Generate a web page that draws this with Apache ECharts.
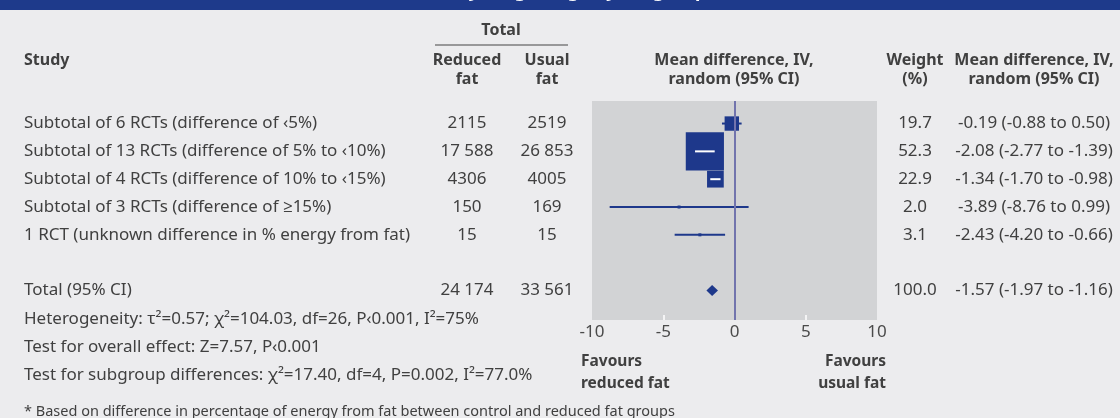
<!DOCTYPE html>
<html>
<head>
<meta charset="utf-8">
<script src="https://cdn.jsdelivr.net/npm/echarts@6/dist/echarts.min.js"></script>
<style>
  html, body { margin: 0; padding: 0; background: #ececee; }
  #chart { width: 1120px; height: 418px; }
</style>
</head>
<body>
<div id="chart"></div>
<script>
// Subgroup rows of the forest plot
const studies = [
  'Subtotal of 6 RCTs (difference of \u20395%)',
  'Subtotal of 13 RCTs (difference of 5% to \u203910%)',
  'Subtotal of 4 RCTs (difference of 10% to \u203915%)',
  'Subtotal of 3 RCTs (difference of \u226515%)',
  '1 RCT (unknown difference in % energy from fat)',
  'Total (95% CI)'
];
const reducedN = ['2115', '17 588', '4306', '150', '15', '24 174'];
const usualN   = ['2519', '26 853', '4005', '169', '15', '33 561'];
const weights  = [19.7, 52.3, 22.9, 2.0, 3.1, 100.0];
const meanDiff = [-0.19, -2.08, -1.34, -3.89, -2.43, -1.57];
const ciLow    = [-0.88, -2.77, -1.70, -8.76, -4.20, -1.97];
const ciHigh   = [0.50, -1.39, -0.98, 0.99, -0.66, -1.16];
const rowPos   = [0, 1, 2, 3, 4, 6];
const isTotal  = [false, false, false, false, false, true];
const xTicks   = [-10, -5, 0, 5, 10];

const FONT = '"Noto Sans", "Open Sans", sans-serif';
const TXT = '#404040';
const BLUE = '#1e388b';
const BODY = 17;
const HEAD = 16;

const rows = studies.map((s, i) => [rowPos[i], meanDiff[i], ciLow[i], ciHigh[i], weights[i], isTotal[i] ? 1 : 0, i]);

function fmt(v) { return v.toFixed(2); }

// squares scaled by weight, CI whiskers, diamond for the pooled estimate
function renderForest(params, api) {
  const row = api.value(0), md = api.value(1), lo = api.value(2), hi = api.value(3);
  const w = api.value(4), tot = api.value(5);
  const c = api.coord([md, row]);
  const pl = api.coord([lo, row]);
  const ph = api.coord([hi, row]);
  if (tot) {
    const h = 5.5;
    return {
      type: 'polygon',
      shape: { points: [[pl[0], c[1]], [c[0], c[1] - h], [ph[0], c[1]], [c[0], c[1] + h]] },
      style: { fill: BLUE }
    };
  }
  const side = Math.max(3, w * 0.73);
  const x0 = c[0] - side / 2, x1 = c[0] + side / 2;
  const inside = pl[0] >= x0 && ph[0] <= x1;
  const children = [
    { type: 'line', shape: { x1: pl[0], y1: c[1], x2: ph[0], y2: c[1] }, style: { stroke: BLUE, lineWidth: 2 } },
    { type: 'rect', shape: { x: x0, y: c[1] - side / 2, width: side, height: side }, style: { fill: BLUE } }
  ];
  if (inside) {
    children.push({ type: 'line', shape: { x1: pl[0], y1: c[1], x2: ph[0], y2: c[1] }, style: { stroke: '#ffffff', lineWidth: 2 } });
  }
  return { type: 'group', children };
}

// table columns placed on the same row scale as the plot
function renderTable(params, api) {
  const i = api.value(6);
  const y = api.coord([0, api.value(0)])[1];
  const base = { fontFamily: FONT, fontSize: BODY, fill: TXT, verticalAlign: 'middle' };
  const t = (x, text, align) => ({ type: 'text', x, y, style: Object.assign({}, base, { text, align }) });
  return {
    type: 'group',
    children: [
      t(24, studies[i], 'left'),
      t(467, reducedN[i], 'center'),
      t(547, usualN[i], 'center'),
      t(915, weights[i].toFixed(1), 'center'),
      t(1034, fmt(meanDiff[i]) + ' (' + fmt(ciLow[i]) + ' to ' + fmt(ciHigh[i]) + ')', 'center')
    ]
  };
}

function txt(x, y, text, opts) {
  return {
    type: 'text', x, y, silent: true,
    style: Object.assign({ text, fontFamily: FONT, fontSize: BODY, fill: TXT, verticalAlign: 'middle', align: 'left' }, opts || {})
  };
}
const bold = (o) => Object.assign({ fontWeight: 'bold', fontSize: HEAD }, o || {});

const chart = echarts.init(document.getElementById('chart'), null, { renderer: 'canvas' });
chart.setOption({
  backgroundColor: '#ececee',
  animation: false,
  grid: { left: 592, right: 243, top: 101, bottom: 98, show: true, backgroundColor: '#d2d3d5', borderWidth: 0 },
  xAxis: {
    type: 'value', min: xTicks[0], max: xTicks[xTicks.length - 1], interval: 5,
    axisLine: { show: false, onZero: false },
    axisTick: { show: true, inside: true, length: 5, customValues: [-5, 0, 5], lineStyle: { color: '#ffffff', width: 1.5 } },
    splitLine: { show: false },
    axisLabel: { color: '#4a4a4a', fontFamily: FONT, fontSize: BODY, margin: 4 }
  },
  yAxis: { type: 'value', inverse: true, min: -0.81, max: 7.06, show: false },
  series: [
    {
      type: 'custom', renderItem: renderForest, data: rows, clip: false, z: 3,
      markLine: {
        silent: true, symbol: 'none', label: { show: false },
        lineStyle: { color: '#7274ad', width: 2, type: 'solid' },
        data: [{ xAxis: 0 }]
      }
    },
    { type: 'custom', renderItem: renderTable, data: rows, clip: false, z: 4 }
  ],
  graphic: [
    { type: 'rect', shape: { x: 0, y: 0, width: 1120, height: 10 }, style: { fill: '#1e3a8b' } },
    txt(575, -8, 'Body weight (kg), by subgroup*', bold({ fill: '#ffffff', fontSize: 18, align: 'center' })),
    txt(24, 60, 'Study', bold()),
    txt(501, 30, 'Total', bold({ align: 'center' })),
    { type: 'line', shape: { x1: 435, y1: 45, x2: 568, y2: 45 }, style: { stroke: '#444', lineWidth: 1.2 } },
    txt(467, 60, 'Reduced', bold({ align: 'center' })),
    txt(467, 79, 'fat', bold({ align: 'center' })),
    txt(547, 60, 'Usual', bold({ align: 'center' })),
    txt(547, 79, 'fat', bold({ align: 'center' })),
    txt(734, 60, 'Mean difference, IV,', bold({ align: 'center' })),
    txt(734, 79, 'random (95% CI)', bold({ align: 'center' })),
    txt(915, 60, 'Weight', bold({ align: 'center' })),
    txt(915, 79, '(%)', bold({ align: 'center' })),
    txt(1034, 60, 'Mean difference, IV,', bold({ align: 'center' })),
    txt(1034, 79, 'random (95% CI)', bold({ align: 'center' })),
    txt(24, 319, 'Heterogeneity: \u03c4\u00b2=0.57; \u03c7\u00b2=104.03, df=26, P\u20390.001, I\u00b2=75%'),
    txt(24, 347, 'Test for overall effect: Z=7.57, P\u20390.001'),
    txt(24, 375, 'Test for subgroup differences: \u03c7\u00b2=17.40, df=4, P=0.002, I\u00b2=77.0%'),
    txt(24, 412, '* Based on difference in percentage of energy from fat between control and reduced fat groups', { fontSize: 14.5 }),
    txt(581, 362, 'Favours', bold({ fontSize: 15.5 })),
    txt(581, 384, 'reduced fat', bold({ fontSize: 15.5 })),
    txt(886, 362, 'Favours', bold({ align: 'right', fontSize: 15.5 })),
    txt(886, 384, 'usual fat', bold({ align: 'right', fontSize: 15.5 }))
  ]
});
</script>
</body>
</html>
